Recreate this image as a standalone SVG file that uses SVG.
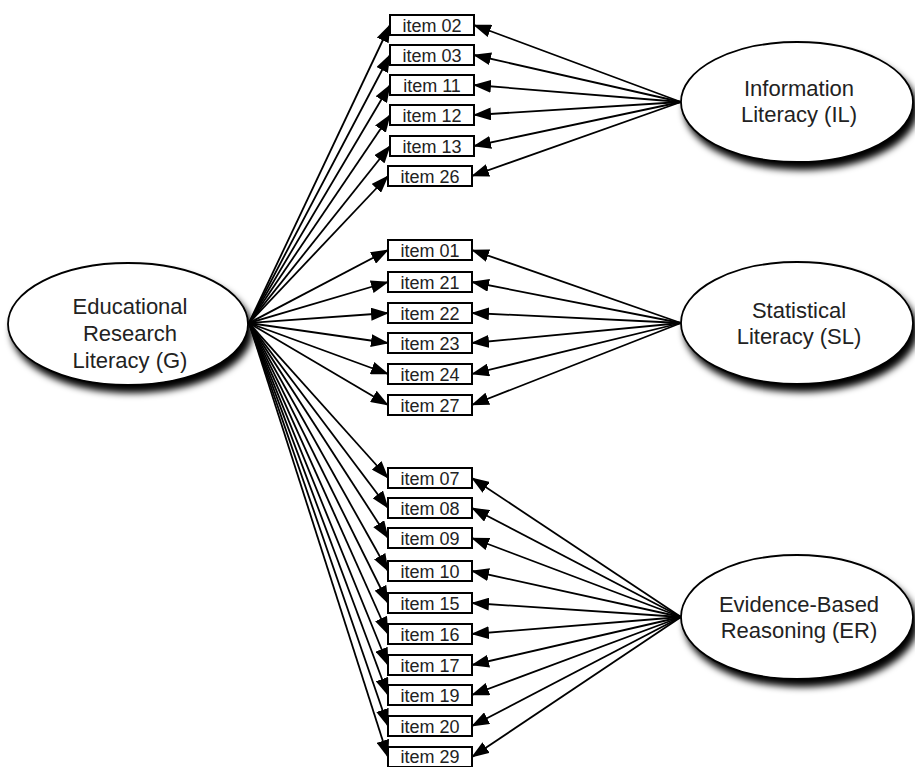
<svg xmlns="http://www.w3.org/2000/svg" width="915" height="767" viewBox="0 0 915 767">
<defs>
<style>
.conn line{stroke:#000;stroke-width:1.8;fill:none;marker-end:url(#ah)}
.box rect{fill:#fff;stroke:#000;stroke-width:2}
.box text{font-family:"Liberation Sans",Arial,sans-serif;font-size:18px;fill:#222;text-anchor:middle}
.lat ellipse{fill:#fff;stroke:#000;stroke-width:1.8;filter:url(#sh)}
.lat text{font-family:"Liberation Sans",Arial,sans-serif;font-size:22px;fill:#222;text-anchor:middle}
</style>
<marker id="ah" markerWidth="18" markerHeight="13" refX="17" refY="6.5" orient="auto" markerUnits="userSpaceOnUse"><path d="M0,0 L18,6.5 L0,13 z" fill="#000"/></marker>
<filter id="sh" x="-20%" y="-20%" width="150%" height="160%">
<feGaussianBlur in="SourceAlpha" stdDeviation="3.5"/>
<feOffset dx="4" dy="7" result="b"/>
<feComponentTransfer in="b" result="c"><feFuncA type="linear" slope="1"/></feComponentTransfer>
<feMerge><feMergeNode in="c"/><feMergeNode in="SourceGraphic"/></feMerge>
</filter>
</defs>
<rect width="915" height="767" fill="#fff"/>
<g id="connectors" class="conn">
<line x1="249" y1="323" x2="390" y2="25"/>
<line x1="249" y1="323" x2="390" y2="55"/>
<line x1="249" y1="323" x2="390" y2="85"/>
<line x1="249" y1="323" x2="390" y2="115"/>
<line x1="249" y1="323" x2="390" y2="146"/>
<line x1="249" y1="323" x2="388" y2="176"/>
<line x1="249" y1="323" x2="388" y2="250"/>
<line x1="249" y1="323" x2="388" y2="282"/>
<line x1="249" y1="323" x2="388" y2="313"/>
<line x1="249" y1="323" x2="388" y2="343"/>
<line x1="249" y1="323" x2="388" y2="374"/>
<line x1="249" y1="323" x2="388" y2="405"/>
<line x1="249" y1="323" x2="388" y2="478"/>
<line x1="249" y1="323" x2="388" y2="508"/>
<line x1="249" y1="323" x2="388" y2="538"/>
<line x1="249" y1="323" x2="388" y2="571"/>
<line x1="249" y1="323" x2="388" y2="603"/>
<line x1="249" y1="323" x2="388" y2="634"/>
<line x1="249" y1="323" x2="388" y2="665"/>
<line x1="249" y1="323" x2="388" y2="695"/>
<line x1="249" y1="323" x2="388" y2="726"/>
<line x1="249" y1="323" x2="388" y2="757"/>
<line x1="681" y1="102" x2="474" y2="25"/>
<line x1="681" y1="102" x2="474" y2="55"/>
<line x1="681" y1="102" x2="474" y2="85"/>
<line x1="681" y1="102" x2="474" y2="115"/>
<line x1="681" y1="102" x2="474" y2="146"/>
<line x1="681" y1="102" x2="472" y2="176"/>
<line x1="681" y1="323" x2="472" y2="250"/>
<line x1="681" y1="323" x2="472" y2="282"/>
<line x1="681" y1="323" x2="472" y2="313"/>
<line x1="681" y1="323" x2="472" y2="343"/>
<line x1="681" y1="323" x2="472" y2="374"/>
<line x1="681" y1="323" x2="472" y2="405"/>
<line x1="681" y1="617" x2="472" y2="478"/>
<line x1="681" y1="617" x2="472" y2="508"/>
<line x1="681" y1="617" x2="472" y2="538"/>
<line x1="681" y1="617" x2="472" y2="571"/>
<line x1="681" y1="617" x2="472" y2="603"/>
<line x1="681" y1="617" x2="472" y2="634"/>
<line x1="681" y1="617" x2="472" y2="665"/>
<line x1="681" y1="617" x2="472" y2="695"/>
<line x1="681" y1="617" x2="472" y2="726"/>
<line x1="681" y1="617" x2="472" y2="757"/>
</g>
<g id="item02" class="box"><rect x="390" y="15" width="84" height="20"/><text x="432" y="32">item 02</text></g>
<g id="item03" class="box"><rect x="390" y="45" width="84" height="20"/><text x="432" y="62">item 03</text></g>
<g id="item11" class="box"><rect x="390" y="75" width="84" height="20"/><text x="432" y="92">item 11</text></g>
<g id="item12" class="box"><rect x="390" y="105" width="84" height="20"/><text x="432" y="122">item 12</text></g>
<g id="item13" class="box"><rect x="390" y="136" width="84" height="20"/><text x="432" y="153">item 13</text></g>
<g id="item26" class="box"><rect x="388" y="166" width="84" height="20"/><text x="430" y="183">item 26</text></g>
<g id="item01" class="box"><rect x="388" y="240" width="84" height="20"/><text x="430" y="257">item 01</text></g>
<g id="item21" class="box"><rect x="388" y="272" width="84" height="20"/><text x="430" y="289">item 21</text></g>
<g id="item22" class="box"><rect x="388" y="303" width="84" height="20"/><text x="430" y="320">item 22</text></g>
<g id="item23" class="box"><rect x="388" y="333" width="84" height="20"/><text x="430" y="350">item 23</text></g>
<g id="item24" class="box"><rect x="388" y="364" width="84" height="20"/><text x="430" y="381">item 24</text></g>
<g id="item27" class="box"><rect x="388" y="395" width="84" height="20"/><text x="430" y="412">item 27</text></g>
<g id="item07" class="box"><rect x="388" y="468" width="84" height="20"/><text x="430" y="485">item 07</text></g>
<g id="item08" class="box"><rect x="388" y="498" width="84" height="20"/><text x="430" y="515">item 08</text></g>
<g id="item09" class="box"><rect x="388" y="528" width="84" height="20"/><text x="430" y="545">item 09</text></g>
<g id="item10" class="box"><rect x="388" y="561" width="84" height="20"/><text x="430" y="578">item 10</text></g>
<g id="item15" class="box"><rect x="388" y="593" width="84" height="20"/><text x="430" y="610">item 15</text></g>
<g id="item16" class="box"><rect x="388" y="624" width="84" height="20"/><text x="430" y="641">item 16</text></g>
<g id="item17" class="box"><rect x="388" y="655" width="84" height="20"/><text x="430" y="672">item 17</text></g>
<g id="item19" class="box"><rect x="388" y="685" width="84" height="20"/><text x="430" y="702">item 19</text></g>
<g id="item20" class="box"><rect x="388" y="716" width="84" height="20"/><text x="430" y="733">item 20</text></g>
<g id="item29" class="box"><rect x="388" y="747" width="84" height="20"/><text x="430" y="763">item 29</text></g>
<g id="G" class="lat"><ellipse cx="128" cy="324" rx="120" ry="61"/><text x="130" y="314">Educational</text><text x="130" y="341">Research</text><text x="130" y="368">Literacy (G)</text></g>
<g id="IL" class="lat"><ellipse cx="797" cy="102" rx="116" ry="60"/><text x="799" y="96">Information</text><text x="799" y="122">Literacy (IL)</text></g>
<g id="SL" class="lat"><ellipse cx="797" cy="323" rx="116" ry="61"/><text x="799" y="318">Statistical</text><text x="799" y="344">Literacy (SL)</text></g>
<g id="ER" class="lat"><ellipse cx="797" cy="617" rx="116" ry="62"/><text x="799" y="612">Evidence-Based</text><text x="799" y="638">Reasoning (ER)</text></g>
</svg>
